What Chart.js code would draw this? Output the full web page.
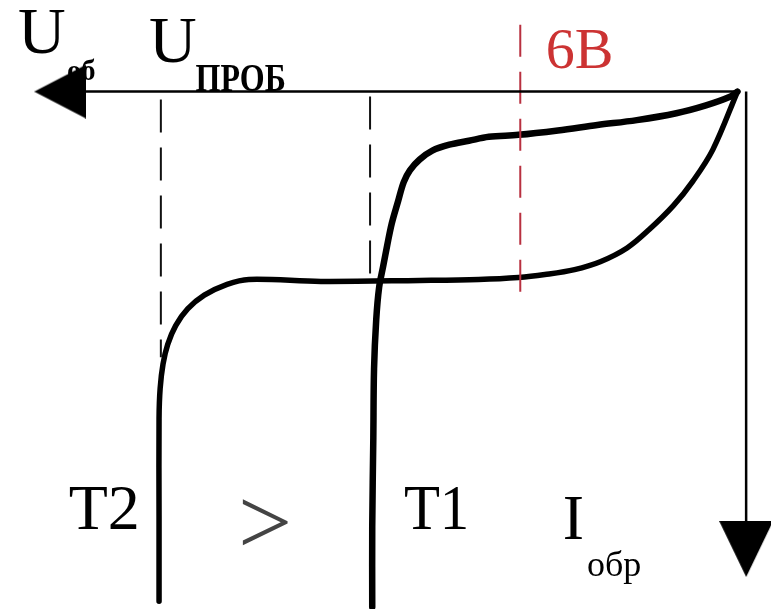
<!DOCTYPE html>
<html>
<head>
<meta charset="utf-8">
<script src="https://cdn.jsdelivr.net/npm/chart.js@4.4.1/dist/chart.umd.min.js"></script>
<style>
  html, body { margin: 0; padding: 0; background: #ffffff; }
  #c { display: block; }
</style>
</head>
<body>
<canvas id="c" width="776" height="614"></canvas>
<script>
// ---- Data (U = reverse voltage, V; I = reverse current, arbitrary units) ----
const t1U = [0, 0.19, 0.87, 1.69, 2.78, 3.87, 4.96, 6.05, 6.87, 7.42, 7.96, 8.43, 8.78, 9.05, 9.22, 9.38, 9.55, 9.68, 9.79, 9.90, 9.98, 10.04, 10.06, 10.09, 10.09];
const t1I = [0, 0.5, 1.4, 2.2, 2.9, 3.4, 3.95, 4.4, 4.6, 5.0, 5.4, 6.0, 6.9, 8.0, 9.2, 11.2, 13.4, 15.7, 17.8, 19.9, 23.2, 28.2, 35.2, 44.2, 52.4];

const t2U = [0, 0.68, 1.23, 1.77, 2.43, 3.05, 3.79, 4.50, 5.32, 6.05, 7.15, 8.78, 11.51, 13.50, 14.10, 14.73, 15.19, 15.52, 15.74, 15.87, 15.95, 15.98, 15.98, 15.98];
const t2I = [0, 5.9, 9.1, 11.6, 14.0, 15.9, 17.3, 18.1, 18.6, 18.9, 19.1, 19.2, 19.3, 19.1, 19.6, 20.7, 22.1, 23.8, 25.7, 27.7, 30.2, 33.2, 43.2, 51.8];

// breakdown voltages / reference voltage
const breakdownU = [10.15, 15.93];   // T1, T2
const breakdownTopI = [0.5, 0.8];
const breakdownEndI = [20.0, 27.0];
const refU = 6;                      // 6 В
const refI = [-6.8, 20.8];

// axes extents
const uAxisEnd = 18.71;   // arrow centre on U axis
const iAxisEnd = 46.5;    // arrow centre on I axis
const iAxisU = -0.24;

// texts
const texts = ['U', 'об', 'U', 'ПРОБ', '6В', 'T2', '>', 'T1', 'I', 'обр'];

// ---- arrow head images ----
function arrowLeft() {
  const c = document.createElement('canvas'); c.width = 52; c.height = 54;
  const g = c.getContext('2d'); g.fillStyle = '#000';
  g.beginPath(); g.moveTo(0, 27); g.lineTo(52, 0); g.lineTo(52, 54); g.closePath(); g.fill();
  return c;
}
function arrowDown() {
  const c = document.createElement('canvas'); c.width = 54; c.height = 56;
  const g = c.getContext('2d'); g.fillStyle = '#000';
  g.beginPath(); g.moveTo(0, 0); g.lineTo(54, 0); g.lineTo(27, 56); g.closePath(); g.fill();
  return c;
}

const pts = (us, is) => us.map((u, k) => ({ x: u, y: is[k] }));

const labelPlugin = {
  id: 'labels',
  afterDatasetsDraw(chart) {
    const ctx = chart.ctx, xs = chart.scales.x, ys = chart.scales.y;
    function put(text, font, color, u, i, sx) {
      const x = xs.getPixelForValue(u), y = ys.getPixelForValue(i);
      ctx.save();
      ctx.font = font; ctx.fillStyle = color;
      ctx.textAlign = 'left'; ctx.textBaseline = 'alphabetic';
      const m = ctx.measureText(text);
      ctx.translate(x, y); ctx.scale(sx || 1, 1);
      ctx.fillText(text, m.actualBoundingBoxLeft, 0);
      ctx.restore();
    }
    const serif = '"Liberation Serif", "DejaVu Serif", serif';
    put(texts[0], '66px ' + serif, '#000', 19.85, -3.9);
    put(texts[1], 'bold 30px ' + serif, '#000', 18.5, -1.2, 0.95);
    put(texts[2], '66px ' + serif, '#000', 16.23, -3.0);
    put(texts[3], 'bold 40px ' + serif, '#000', 14.97, -0.1, 0.8);
    put(texts[4], '58px ' + serif, '#cc3333', 5.24, -2.4);
    put(texts[5], '64px ' + serif, '#000', 18.45, 44.5);
    put(texts[6], '96px ' + serif, '#444', 13.69, 47.0);
    put(texts[7], '64px ' + serif, '#000', 9.19, 44.5, 0.92);
    put(texts[8], '64px ' + serif, '#000', 4.77, 45.5);
    put(texts[9], '36px ' + serif, '#000', 4.13, 49.2);
  }
};

new Chart(document.getElementById('c'), {
  type: 'line',
  data: {
    datasets: [
      { data: [{ x: 0, y: 0 }, { x: uAxisEnd, y: 0 }], borderColor: '#000', borderWidth: 2.5, pointRadius: 0, tension: 0 },
      { data: [{ x: iAxisU, y: 0 }, { x: iAxisU, y: iAxisEnd }], borderColor: '#000', borderWidth: 2.5, pointRadius: 0, tension: 0 },
      { data: [{ x: uAxisEnd, y: 0 }], showLine: false, pointRadius: 1, pointStyle: arrowLeft() },
      { data: [{ x: iAxisU, y: iAxisEnd }], showLine: false, pointRadius: 1, pointStyle: arrowDown() },
      { data: [{ x: breakdownU[0], y: breakdownTopI[0] }, { x: breakdownU[0], y: breakdownEndI[0] }], borderColor: '#111', borderWidth: 2, borderDash: [33, 15], pointRadius: 0, tension: 0 },
      { data: [{ x: breakdownU[1], y: breakdownTopI[1] }, { x: breakdownU[1], y: breakdownEndI[1] }], borderColor: '#111', borderWidth: 2, borderDash: [33, 15], pointRadius: 0, tension: 0 },
      { data: [{ x: refU, y: refI[0] }, { x: refU, y: refI[1] }], borderColor: '#b83040', borderWidth: 2, borderDash: [32, 15], pointRadius: 0, tension: 0 },
      { data: pts(t1U, t1I), borderColor: '#000', borderWidth: 6.5, pointRadius: 0, tension: 0.35, borderCapStyle: 'round', borderJoinStyle: 'round' },
      { data: pts(t2U, t2I), borderColor: '#000', borderWidth: 5.5, pointRadius: 0, tension: 0.35, borderCapStyle: 'round', borderJoinStyle: 'round' }
    ]
  },
  options: {
    responsive: false,
    animation: false,
    events: [],
    layout: { padding: 0 },
    plugins: { legend: { display: false }, tooltip: { enabled: false }, title: { display: false } },
    scales: {
      x: { type: 'linear', reverse: true, min: -0.927, max: 20.236, display: false },
      y: { type: 'linear', reverse: true, min: -8.8, max: 52.6, display: false }
    }
  },
  plugins: [labelPlugin]
});
</script>
</body>
</html>
